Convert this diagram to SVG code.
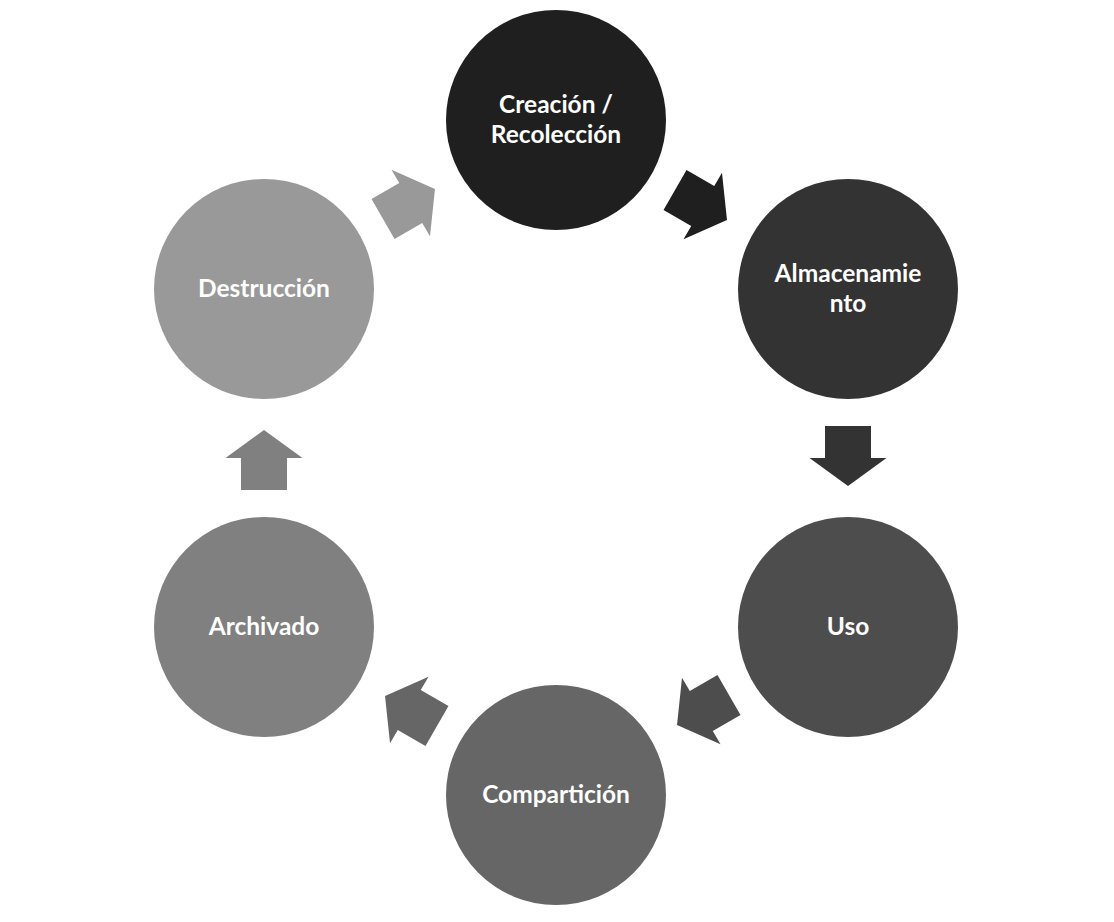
<svg xmlns="http://www.w3.org/2000/svg" width="1114" height="922" viewBox="0 0 1114 922">
<style>
.lbl{font-family:Lato,"Open Sans","Liberation Sans",sans-serif;font-weight:bold;font-size:24.5px;fill:#ffffff;text-anchor:middle}
</style>
<defs>
<polygon id="arr" points="-30,-23 2,-23 2,-38.5 30,0 2,38.5 2,23 -30,23"/>
</defs>
<rect width="1114" height="922" fill="#ffffff"/>
<g id="connectors">
<use href="#arr" fill="#1f1f1f" transform="translate(701,205) rotate(30)"/>
<use href="#arr" fill="#333333" transform="translate(848,456) rotate(90)"/>
<use href="#arr" fill="#4d4d4d" transform="translate(703,710) rotate(150)"/>
<use href="#arr" fill="#666666" transform="translate(411,711) rotate(210)"/>
<use href="#arr" fill="#808080" transform="translate(264,460) rotate(270)"/>
<use href="#arr" fill="#999999" transform="translate(409,204) rotate(330)"/>
</g>
<g id="node-creacion">
<circle cx="556" cy="120" r="110" fill="#1f1f1f"/>
<text class="lbl" x="556" y="113">Creación /</text>
<text class="lbl" x="556" y="143">Recolección</text>
</g>
<g id="node-almacenamiento">
<circle cx="848" cy="289" r="110" fill="#333333"/>
<text class="lbl" x="848" y="282">Almacenamie</text>
<text class="lbl" x="848" y="312">nto</text>
</g>
<g id="node-uso">
<circle cx="848" cy="627" r="110" fill="#4d4d4d"/>
<text class="lbl" x="848" y="635">Uso</text>
</g>
<g id="node-comparticion">
<circle cx="556" cy="795" r="110" fill="#666666"/>
<text class="lbl" x="556" y="803">Compartición</text>
</g>
<g id="node-archivado">
<circle cx="264" cy="627" r="110" fill="#808080"/>
<text class="lbl" x="264" y="635">Archivado</text>
</g>
<g id="node-destruccion">
<circle cx="264" cy="289" r="110" fill="#999999"/>
<text class="lbl" x="264" y="297">Destrucción</text>
</g>
</svg>
